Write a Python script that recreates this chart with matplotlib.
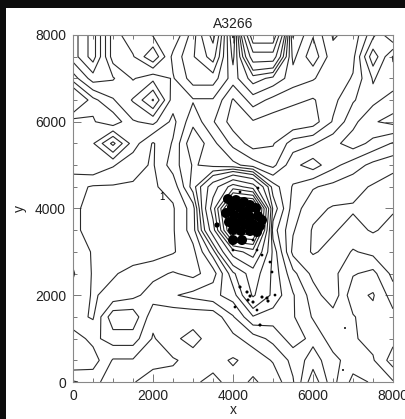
import numpy as np
import matplotlib
matplotlib.use("Agg")
import matplotlib.pyplot as plt
from matplotlib.patches import Rectangle
from matplotlib.ticker import MultipleLocator

# Galaxy surface-density grid for the field (rows from y=8000 down to y=0)
grid_x = np.arange(0, 8001, 500)
grid_y = np.arange(8000, -1, -500)
density = np.array([
    [3.0, 4.0, 2.0, 1.4, 1.8, 1.8, 3.0, 4.8, 1.2, 7.4, 7.4, 1.2, 2.2, 1.2, 1.4, 2.6, 3.8],
    [3.0, 4.0, 2.0, 1.8, 0.8, 2.4, 3.2, 4.0, 1.6, 5.0, 5.0, 1.6, 2.6, 1.4, 1.6, 3.6, 2.2],
    [2.0, 3.0, 2.8, 2.2, 2.6, 2.2, 3.0, 3.0, 2.0, 3.0, 2.6, 2.0, 1.8, 1.4, 1.8, 2.8, 2.4],
    [0.2, 1.6, 2.2, 2.8, 3.8, 2.0, 2.2, 2.2, 1.2, 2.0, 1.6, 1.4, 1.2, 1.6, 2.2, 2.6, 3.0],
    [2.0, 1.8, 1.4, 2.2, 2.4, 1.6, 2.6, 1.8, 1.0, 1.2, 1.0, 0.8, 1.0, 1.8, 2.6, 3.2, 3.4],
    [2.0, 2.2, 3.4, 2.0, 1.2, 1.8, 3.2, 2.4, 1.6, 1.0, 1.2, 2.0, 2.2, 2.6, 3.0, 2.6, 2.2],
    [2.0, 2.2, 1.8, 1.4, 1.2, 2.0, 2.8, 2.6, 2.4, 2.0, 1.6, 2.6, 3.0, 2.4, 2.0, 1.6, 1.4],
    [1.4, 1.2, 1.2, 1.2, 1.2, 1.4, 3.0, 5.0, 7.0, 6.0, 3.0, 2.2, 1.8, 1.6, 1.4, 1.2, 1.0],
    [1.4, 1.0, 1.0, 1.0, 1.0, 1.2, 2.0, 6.0, 12.4, 12.4, 3.6, 2.0, 1.4, 1.2, 1.2, 1.0, 1.2],
    [1.4, 1.0, 1.0, 1.0, 1.0, 1.2, 2.0, 5.0, 11.4, 11.4, 3.0, 1.8, 1.2, 1.2, 1.4, 1.2, 1.4],
    [1.6, 1.2, 1.0, 1.0, 1.0, 1.2, 1.6, 3.0, 6.0, 7.0, 3.6, 1.6, 1.2, 1.4, 1.8, 1.6, 1.4],
    [1.8, 1.2, 1.2, 1.4, 1.6, 1.8, 1.6, 2.0, 3.6, 5.0, 3.6, 2.4, 1.6, 1.6, 2.2, 2.4, 1.6],
    [1.6, 1.2, 1.4, 1.6, 2.0, 2.2, 2.4, 2.6, 3.0, 4.6, 3.6, 2.8, 2.0, 1.4, 2.6, 2.8, 2.0],
    [1.4, 1.2, 2.6, 2.6, 1.4, 1.4, 1.4, 1.4, 2.2, 3.2, 3.0, 2.8, 2.2, 2.0, 2.2, 2.6, 2.4],
    [2.0, 1.6, 2.0, 2.0, 1.2, 1.6, 2.0, 1.4, 1.6, 2.0, 2.4, 3.0, 2.6, 2.0, 2.2, 2.4, 2.6],
    [2.2, 2.0, 1.2, 1.2, 1.0, 1.2, 1.4, 1.4, 1.2, 1.4, 1.8, 2.4, 3.0, 2.4, 2.0, 2.2, 3.0],
    [1.2, 1.4, 1.0, 1.2, 1.6, 1.4, 1.6, 2.0, 1.4, 1.2, 1.4, 2.2, 3.6, 2.4, 1.6, 1.8, 2.2],
])
contour_levels = [1.25, 1.75, 2.25, 2.75, 3.25, 3.75, 4.5, 5.5, 6.5, 7.5, 8.5, 9.5, 10.5, 11.5]

# Member galaxies: bright cluster core
core_x = [3875, 4075, 4275, 4425, 4575, 3975, 4175, 4375, 3825, 4025, 4225, 4425, 4625,
          4725, 3900, 4100, 4300, 4500, 4675, 4000, 4200, 4425, 4600, 4000, 4225]
core_y = [4218, 4195, 4149, 4080, 4011, 4034, 4011, 3942, 3895, 3849, 3826, 3803, 3826,
          3734, 3688, 3665, 3642, 3642, 3596, 3504, 3481, 3481, 3458, 3273, 3273]
# Fainter galaxies
faint_x = [3600, 4175, 4625, 4500, 4600, 4000, 4725, 4925, 4975, 4175, 4350, 4425, 4375,
           4500, 4050, 4725, 4850, 4875, 5050, 4600, 4675, 6800, 6750]
faint_y = [3619, 4380, 4472, 3273, 3043, 3043, 2927, 2766, 2536, 2190, 2075, 1982, 1890,
           1844, 1729, 1959, 1936, 1867, 2005, 1660, 1314, 1245, 277]
faint_s = [14, 4, 4, 4, 4, 4, 4, 4, 4, 5, 5, 5, 5, 5, 4, 5, 5, 5, 4, 4, 5, 2, 2]

fig = plt.figure(figsize=(4.05, 4.19), dpi=100, facecolor="#0c0c0c")
fig.patches.append(Rectangle((6 / 405, 0), 1, 1 - 8 / 419, transform=fig.transFigure,
                             facecolor="white", edgecolor="none", zorder=-10))

ax = fig.add_axes([73 / 405, 1 - 382 / 419, 320 / 405, 347 / 419])
ax.set_facecolor("white")

gx, gy = np.meshgrid(grid_x, grid_y)
ax.contour(gx, gy, density, levels=contour_levels, colors="#2a2a2a", linewidths=0.8)

ax.scatter(core_x, core_y, s=52, c="black", edgecolors="none", zorder=3)
ax.scatter(faint_x, faint_y, s=faint_s, c="black", edgecolors="none", zorder=3)
ax.text(2225, 4264, "1", fontsize=7, ha="center", va="center", family="Liberation Sans")

ax.set_xlim(0, 8000)
ax.set_ylim(0, 8000)
font = {"family": "Liberation Sans", "size": 10, "color": "#222222"}
ax.xaxis.set_major_locator(MultipleLocator(2000))
ax.yaxis.set_major_locator(MultipleLocator(2000))
ax.xaxis.set_minor_locator(MultipleLocator(500))
ax.yaxis.set_minor_locator(MultipleLocator(500))
ax.tick_params(which="both", direction="in", top=True, right=True, color="#777777", width=0.7)
ax.tick_params(which="major", length=6, labelsize=10, pad=5, labelcolor="#222222")
ax.tick_params(which="minor", length=3)
for lab in ax.get_xticklabels() + ax.get_yticklabels():
    lab.set_family("Liberation Sans")
for sp in ax.spines.values():
    sp.set_color("#888888")
    sp.set_linewidth(0.8)

ax.set_title("A3266", fontdict=font, pad=5)
ax.set_xlabel("x", fontdict=font, labelpad=0)
ax.set_ylabel("y", fontdict=font, labelpad=6)

fig.savefig("out.png", dpi=100, facecolor=fig.get_facecolor())
